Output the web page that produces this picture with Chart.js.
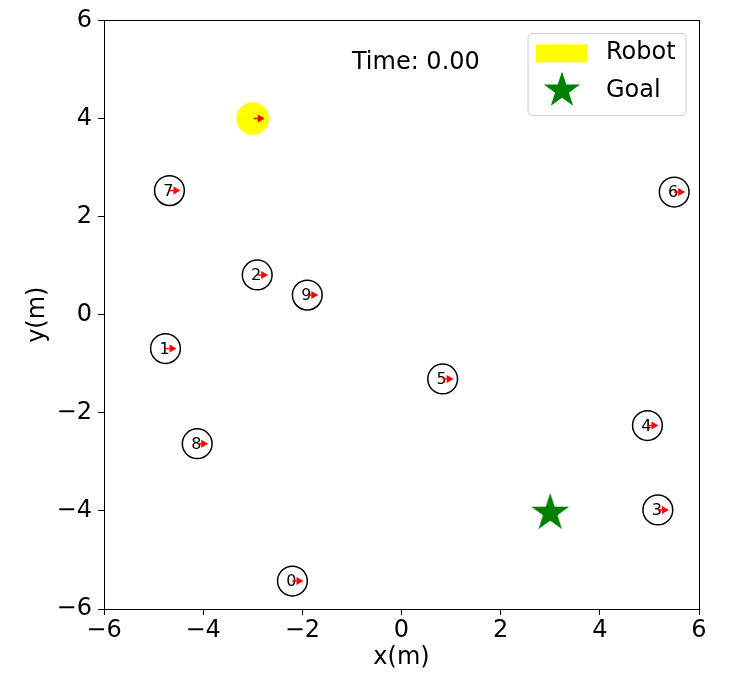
<!DOCTYPE html>
<html>
<head>
<meta charset="utf-8">
<script src="https://cdn.jsdelivr.net/npm/chart.js@4"></script>
<style>
  html, body { margin: 0; padding: 0; background: #ffffff; }
  #wrap { width: 730px; height: 676px; }
</style>
</head>
<body>
<div id="wrap"><canvas id="c" width="730" height="676"></canvas></div>
<script>
// ---- data ----
const humanIds = ['0', '1', '2', '3', '4', '5', '6', '7', '8', '9'];
const humanX = [-2.20, -4.76, -2.91, 5.17, 4.96, 0.83, 5.50, -4.68, -4.12, -1.90];
const humanY = [-5.43, -0.69, 0.81, -3.98, -2.26, -1.31, 2.50, 2.53, -2.63, 0.40];
const humanHeading = [0, 0, 0, 0, 0, 0, 0, 0, 0, 0];
const humanRadius = 0.3;
const robotX = [-3.0];
const robotY = [4.0];
const robotHeading = [0];
const robotRadius = 0.33;
const goalX = [3.0];
const goalY = [-4.0];
const axisTicks = [-6, -4, -2, 0, 2, 4, 6];
const timeLabel = 'Time: 0.00';
const timePos = [-1, 5];
const legendLabels = ['Robot', 'Goal'];

const FONT = "'DejaVu Sans', 'Liberation Sans', sans-serif";
const FS = 24;

function makeStar(R, color) {
  const size = Math.ceil(2 * R + 4);
  const cv = document.createElement('canvas');
  cv.width = size; cv.height = size;
  const g = cv.getContext('2d');
  drawStar(g, size / 2, size / 2 + R * 0.1, R, color);
  return cv;
}
function drawStar(g, cx, cy, R, color) {
  const r = R * 0.382;
  g.beginPath();
  for (let i = 0; i < 10; i++) {
    const ang = -Math.PI / 2 + i * Math.PI / 5;
    const rad = i % 2 === 0 ? R : r;
    const px = cx + rad * Math.cos(ang), py = cy + rad * Math.sin(ang);
    if (i === 0) g.moveTo(px, py); else g.lineTo(px, py);
  }
  g.closePath();
  g.fillStyle = color;
  g.fill();
}
const starImg = makeStar(20, '#008000');

function radiusPx(ctx, r) {
  const s = ctx.chart.scales.x;
  if (!s || !isFinite(s.getPixelForValue(0))) return 15;
  return Math.abs(s.getPixelForValue(r) - s.getPixelForValue(0));
}

function drawArrow(g, x0, y0, ang, len, headL, headW) {
  const cos = Math.cos(ang), sin = Math.sin(ang);
  const x1 = x0 + len * cos, y1 = y0 - len * sin;
  const bx = x1 - headL * cos, by = y1 + headL * sin;
  g.strokeStyle = '#ff0000';
  g.lineWidth = 1.5;
  g.beginPath(); g.moveTo(x0, y0); g.lineTo(bx, by); g.stroke();
  g.fillStyle = '#ff0000';
  g.beginPath();
  g.moveTo(x1, y1);
  g.lineTo(bx - headW * sin, by - headW * cos);
  g.lineTo(bx + headW * sin, by + headW * cos);
  g.closePath(); g.fill();
}

const overlay = {
  id: 'overlay',
  afterDatasetsDraw(chart) {
    const g = chart.ctx;
    const xs = chart.scales.x, ys = chart.scales.y;
    const ca = chart.chartArea;
    g.save();
    for (let i = 0; i < robotX.length; i++) {
      drawArrow(g, xs.getPixelForValue(robotX[i]) + 1, ys.getPixelForValue(robotY[i]), robotHeading[i], 11, 7, 4);
    }
    for (let i = 0; i < humanX.length; i++) {
      const px = xs.getPixelForValue(humanX[i]), py = ys.getPixelForValue(humanY[i]);
      g.fillStyle = '#000';
      g.font = '16px ' + FONT;
      g.textAlign = 'center';
      g.textBaseline = 'middle';
      g.fillText(humanIds[i], px - 1, py + 1);
      drawArrow(g, px, py, humanHeading[i], 11, 7, 4);
    }
    g.fillStyle = '#000';
    g.font = FS + 'px ' + FONT;
    g.textAlign = 'left';
    g.textBaseline = 'alphabetic';
    g.fillText(timeLabel, xs.getPixelForValue(timePos[0]), ys.getPixelForValue(timePos[1]));
    g.strokeStyle = '#000';
    g.lineWidth = 1;
    g.strokeRect(Math.round(ca.left) + 0.5, Math.round(ca.top) + 0.5, Math.round(ca.right - ca.left), Math.round(ca.bottom - ca.top));
    // legend
    const lx = ca.right - 171, ly = ca.top + 13, lw = 158, lh = 82, rr = 5;
    g.beginPath();
    g.moveTo(lx + rr, ly);
    g.lineTo(lx + lw - rr, ly); g.quadraticCurveTo(lx + lw, ly, lx + lw, ly + rr);
    g.lineTo(lx + lw, ly + lh - rr); g.quadraticCurveTo(lx + lw, ly + lh, lx + lw - rr, ly + lh);
    g.lineTo(lx + rr, ly + lh); g.quadraticCurveTo(lx, ly + lh, lx, ly + lh - rr);
    g.lineTo(lx, ly + rr); g.quadraticCurveTo(lx, ly, lx + rr, ly);
    g.closePath();
    g.fillStyle = 'rgba(255,255,255,0.8)';
    g.fill();
    g.strokeStyle = '#cccccc';
    g.lineWidth = 1;
    g.stroke();
    g.fillStyle = '#ffff00';
    g.fillRect(lx + 8, ly + 11, 51, 18);
    drawStar(g, lx + 34, ly + 57, 19, '#008000');
    g.fillStyle = '#000';
    g.font = FS + 'px ' + FONT;
    g.textAlign = 'left';
    g.textBaseline = 'middle';
    g.fillText(legendLabels[0], lx + 78, ly + 19);
    g.fillText(legendLabels[1], lx + 78, ly + 57);
    g.restore();
  }
};

const tickFmt = v => (v < 0 ? '\u2212' + Math.abs(v) : String(v));

const chart = new Chart(document.getElementById('c'), {
  type: 'scatter',
  data: {
    datasets: [
      {
        label: 'Robot',
        data: robotX.map((x, i) => ({ x, y: robotY[i] })),
        backgroundColor: '#ffff00',
        borderWidth: 0,
        pointRadius: ctx => radiusPx(ctx, robotRadius),
        pointHoverRadius: ctx => radiusPx(ctx, robotRadius)
      },
      {
        label: 'Humans',
        data: humanX.map((x, i) => ({ x, y: humanY[i] })),
        backgroundColor: 'rgba(0,0,0,0)',
        borderColor: '#000000',
        borderWidth: 1.5,
        pointRadius: ctx => radiusPx(ctx, humanRadius),
        pointHoverRadius: ctx => radiusPx(ctx, humanRadius)
      },
      {
        label: 'Goal',
        data: goalX.map((x, i) => ({ x, y: goalY[i] })),
        pointStyle: starImg
      }
    ]
  },
  options: {
    responsive: false,
    animation: false,
    events: [],
    layout: { padding: { top: 16, right: 31, left: 0, bottom: 0 } },
    plugins: { legend: { display: false }, tooltip: { enabled: false } },
    scales: {
      x: {
        type: 'linear', min: -6, max: 6,
        afterBuildTicks: s => { s.ticks = axisTicks.map(v => ({ value: v })); },
        afterFit: s => { s.height = 67; },
        grid: { drawOnChartArea: false, drawTicks: true, tickLength: 6, color: '#000' },
        border: { display: false },
        ticks: { color: '#000', font: { family: FONT, size: FS }, padding: 1, callback: tickFmt, maxRotation: 0 },
        title: { display: true, text: 'x(m)', color: '#000', font: { family: FONT, size: FS }, padding: { top: 0, bottom: 4 } }
      },
      y: {
        type: 'linear', min: -6, max: 6,
        afterBuildTicks: s => { s.ticks = axisTicks.map(v => ({ value: v })); },
        afterFit: s => { s.width = 104; },
        grid: { drawOnChartArea: false, drawTicks: true, tickLength: 6, color: '#000' },
        border: { display: false },
        ticks: { color: '#000', font: { family: FONT, size: FS }, padding: 6, callback: tickFmt },
        title: { display: true, text: 'y(m)', color: '#000', font: { family: FONT, size: FS }, padding: { top: 23, bottom: 0 } }
      }
    }
  },
  plugins: [overlay]
});
</script>
</body>
</html>
